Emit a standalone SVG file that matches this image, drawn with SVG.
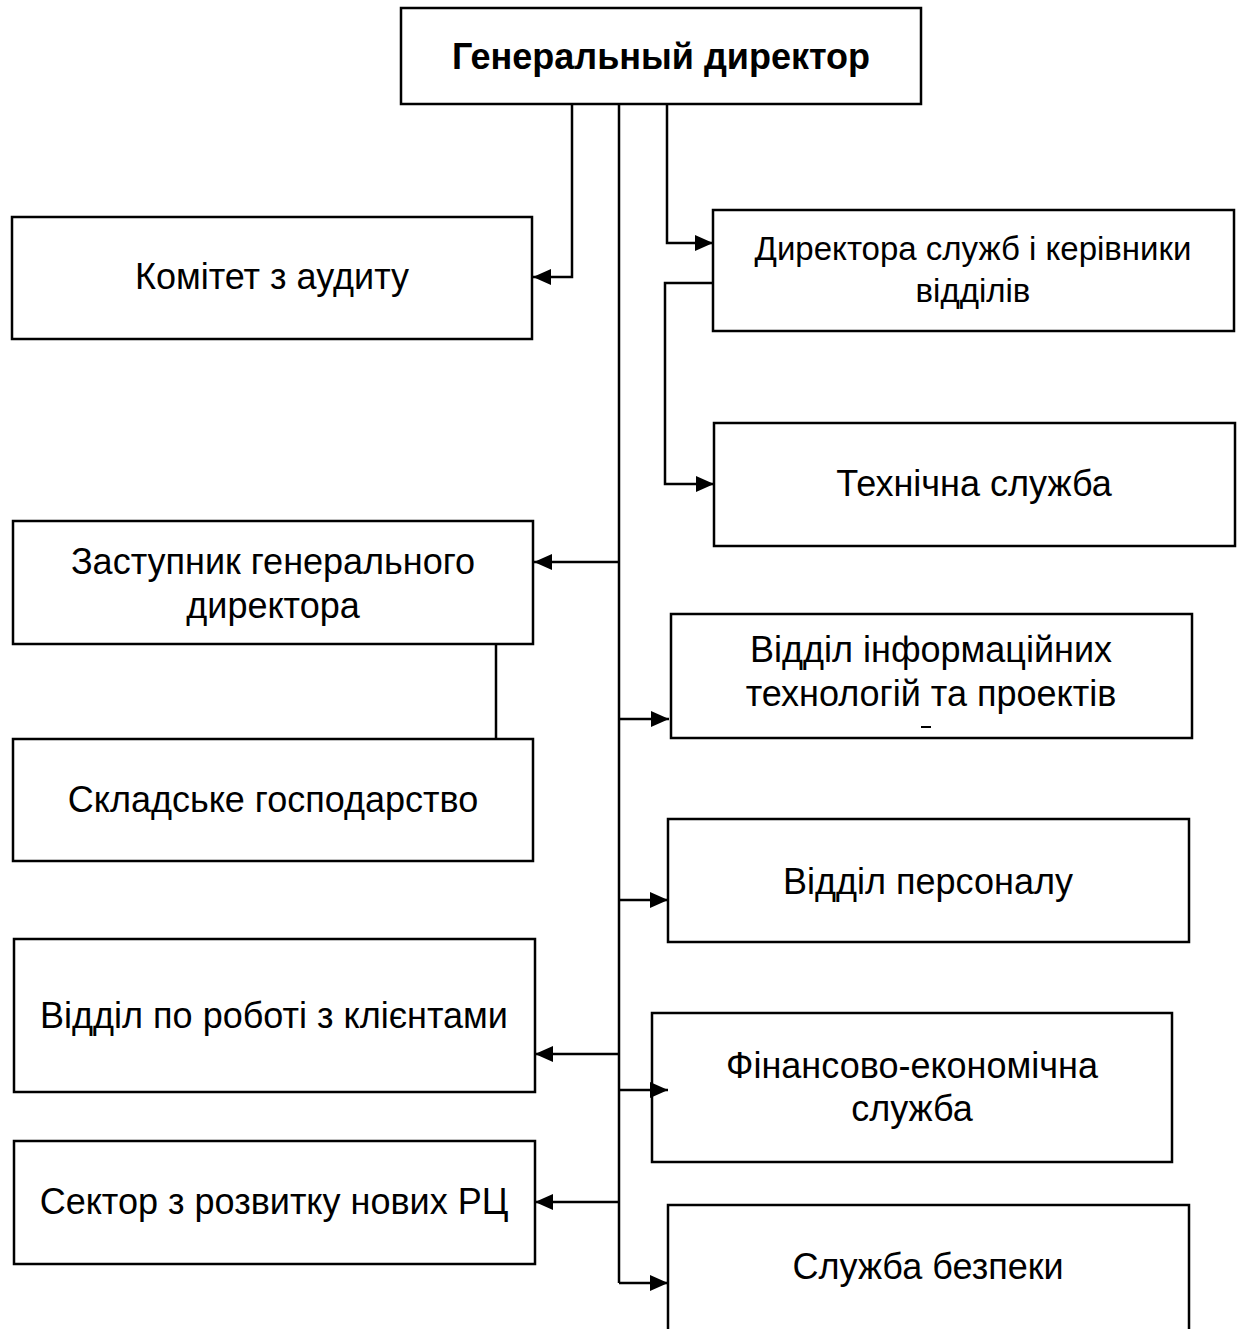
<svg xmlns="http://www.w3.org/2000/svg" width="1240" height="1329" viewBox="0 0 1240 1329">
<style>
.box{fill:#fff;stroke:#000;stroke-width:2.5}
.t{font-family:"Liberation Sans",Arial,sans-serif;font-size:36px;fill:#000;text-anchor:middle}
.s{font-size:33px}
.b{font-weight:bold}
.c{fill:none;stroke:#000;stroke-width:2.5}
</style>
<defs>
<marker id="ah" markerWidth="18" markerHeight="16" refX="18" refY="8" orient="auto" markerUnits="userSpaceOnUse">
<path d="M0,0 L18,8 L0,16 Z" fill="#000"/>
</marker>
</defs>
<rect width="1240" height="1329" fill="#fff"/>
<g id="gen-dir"><rect class="box" x="401" y="8" width="520" height="96"/><text class="t b" x="661" y="69">Генеральный директор</text></g>
<g id="audit"><rect class="box" x="12" y="217" width="520" height="122"/><text class="t" x="272" y="289">Комітет з аудиту</text></g>
<g id="dir-serv"><rect class="box" x="713" y="210" width="521" height="121"/><text class="t s" x="973" y="260">Директора служб і керівники</text><text class="t s" x="973" y="302">відділів</text></g>
<g id="tech"><rect class="box" x="714" y="423" width="521" height="123"/><text class="t" x="974" y="496">Технічна служба</text></g>
<g id="deputy"><rect class="box" x="13" y="521" width="520" height="123"/><text class="t" x="273" y="574">Заступник генерального</text><text class="t" x="273" y="618">директора</text></g>
<g id="warehouse"><rect class="box" x="13" y="739" width="520" height="122"/><text class="t" x="273" y="812">Складське господарство</text></g>
<g id="it"><rect class="box" x="671" y="614" width="521" height="124"/><text class="t" x="931" y="662">Відділ інформаційних</text><text class="t" x="931" y="706">технологій та проектів</text><path d="M921,727 H931" stroke="#000" stroke-width="2"/></g>
<g id="hr"><rect class="box" x="668" y="819" width="521" height="123"/><text class="t" x="928" y="894">Відділ персоналу</text></g>
<g id="clients"><rect class="box" x="14" y="939" width="521" height="153"/><text class="t" x="274" y="1028">Відділ по роботі з клієнтами</text></g>
<g id="finance"><rect class="box" x="652" y="1013" width="520" height="149"/><text class="t" x="912" y="1078">Фінансово-економічна</text><text class="t" x="912" y="1121">служба</text></g>
<g id="sector"><rect class="box" x="14" y="1141" width="521" height="123"/><text class="t" x="274" y="1214">Сектор з розвитку нових РЦ</text></g>
<g id="security"><rect class="box" x="668" y="1205" width="521" height="130"/><text class="t" x="928" y="1279">Служба безпеки</text></g>
<g id="connectors">
<path class="c" d="M572,104 V277 H533" marker-end="url(#ah)"/>
<path class="c" d="M619,104 V1283"/>
<path class="c" d="M667,104 V243 H713" marker-end="url(#ah)"/>
<path class="c" d="M713,283 H665 V484 H714" marker-end="url(#ah)"/>
<path class="c" d="M619,562 H534" marker-end="url(#ah)"/>
<path class="c" d="M496,644 V739"/>
<path class="c" d="M619,719 H669" marker-end="url(#ah)"/>
<path class="c" d="M619,900 H668" marker-end="url(#ah)"/>
<path class="c" d="M619,1054 H535" marker-end="url(#ah)"/>
<path class="c" d="M619,1090 H668" marker-end="url(#ah)"/>
<path class="c" d="M619,1202 H535" marker-end="url(#ah)"/>
<path class="c" d="M619,1283 H668" marker-end="url(#ah)"/>
</g>
</svg>
